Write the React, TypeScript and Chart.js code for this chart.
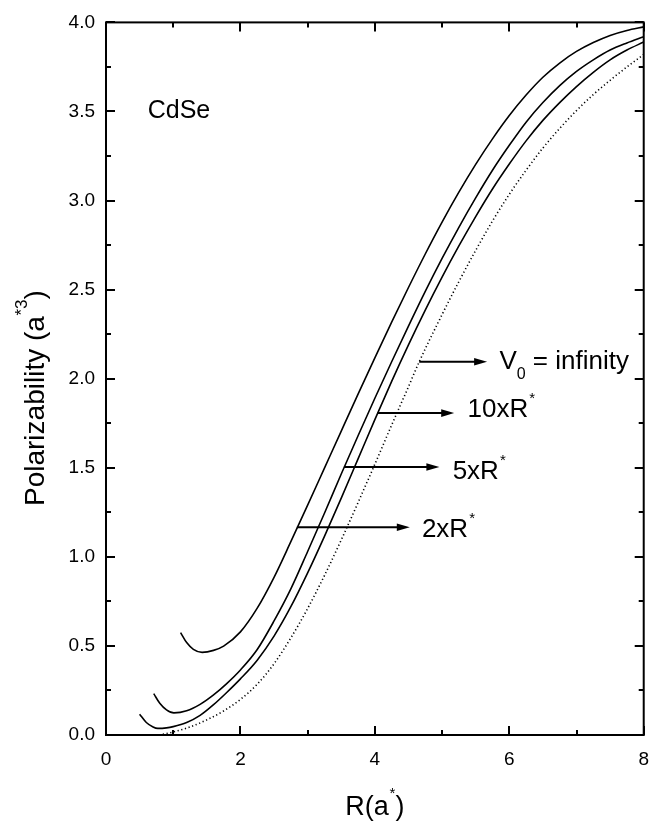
import React, { useEffect, useRef } from 'react';
import { Chart, registerables } from 'chart.js';

Chart.register(...registerables);

const FONT = '"Liberation Sans", Arial, Helvetica, sans-serif';

// Axis ticks
const xMajorTicks = [0, 2, 4, 6, 8];
const xMinorTicks = [1, 3, 5, 7];
const yMajorTicks = [0, 0.5, 1.0, 1.5, 2.0, 2.5, 3.0, 3.5, 4.0];
const yMinorTicks = [0.25, 0.75, 1.25, 1.75, 2.25, 2.75, 3.25, 3.75];

// Curve: V0 = 2 x R*
const r2x = [1.11, 1.2, 1.3, 1.43, 1.6, 1.75, 2.0, 2.25, 2.5, 2.75, 3.0, 3.25, 3.5, 3.75, 4.0, 4.25, 4.5, 4.75, 5.0, 5.25, 5.5, 5.75, 6.0, 6.25, 6.5, 6.75, 7.0, 7.25, 7.5, 7.75, 8.0];
const r2y = [0.575, 0.519, 0.481, 0.464, 0.475, 0.499, 0.579, 0.712, 0.885, 1.085, 1.29, 1.498, 1.706, 1.913, 2.117, 2.318, 2.512, 2.70, 2.879, 3.047, 3.203, 3.346, 3.477, 3.592, 3.692, 3.772, 3.837, 3.887, 3.927, 3.955, 3.975];

// Curve: V0 = 5 x R*
const r5x = [0.71, 0.8, 0.9, 1.01, 1.2, 1.4, 1.6, 1.8, 2.0, 2.25, 2.5, 2.75, 3.0, 3.25, 3.5, 3.75, 4.0, 4.25, 4.5, 4.75, 5.0, 5.25, 5.5, 5.75, 6.0, 6.25, 6.5, 6.75, 7.0, 7.25, 7.5, 7.75, 8.0];
const r5y = [0.232, 0.178, 0.141, 0.124, 0.136, 0.172, 0.225, 0.29, 0.365, 0.48, 0.64, 0.82, 1.03, 1.245, 1.465, 1.68, 1.89, 2.095, 2.295, 2.49, 2.675, 2.85, 3.015, 3.17, 3.31, 3.44, 3.55, 3.645, 3.725, 3.79, 3.845, 3.885, 3.92];

// Curve: V0 = 10 x R*
const r10x = [0.5, 0.6, 0.7, 0.77, 0.9, 1.0, 1.2, 1.4, 1.6, 1.8, 2.0, 2.25, 2.5, 2.75, 3.0, 3.25, 3.5, 3.75, 4.0, 4.25, 4.5, 4.75, 5.0, 5.25, 5.5, 5.75, 6.0, 6.25, 6.5, 6.75, 7.0, 7.25, 7.5, 7.75, 8.0];
const r10y = [0.117, 0.07, 0.045, 0.037, 0.04, 0.047, 0.07, 0.11, 0.17, 0.24, 0.315, 0.42, 0.555, 0.72, 0.91, 1.115, 1.33, 1.55, 1.77, 1.985, 2.19, 2.385, 2.57, 2.745, 2.91, 3.065, 3.205, 3.335, 3.45, 3.55, 3.64, 3.72, 3.79, 3.845, 3.89];

// Curve: V0 = infinity (dotted)
const rInfx = [0.79, 1.0, 1.25, 1.5, 1.75, 2.0, 2.25, 2.5, 2.75, 3.0, 3.25, 3.5, 3.75, 4.0, 4.25, 4.5, 4.66, 5.0, 5.25, 5.5, 5.75, 6.0, 6.25, 6.5, 6.75, 7.0, 7.25, 7.5, 7.75, 8.0];
const rInfy = [0.0, 0.017, 0.045, 0.085, 0.135, 0.20, 0.285, 0.40, 0.545, 0.71, 0.895, 1.095, 1.305, 1.52, 1.74, 1.955, 2.095, 2.36, 2.545, 2.72, 2.885, 3.035, 3.17, 3.295, 3.405, 3.505, 3.595, 3.675, 3.75, 3.82];

// Arrow annotations
const arrowMain = ['2xR', '5xR', '10xR', 'V'];
const arrowSup = ['*', '*', '*', ''];
const arrowSub = ['', '', '', '0'];
const arrowTail = ['', '', '', ' = infinity'];
const arrowStartX = [2.84, 3.54, 4.04, 4.66];
const arrowEndX = [4.52, 4.96, 5.18, 5.67];
const arrowY = [1.166, 1.504, 1.807, 2.095];
const labelX = [4.70, 5.157, 5.378, 5.853];
const labelY = [1.114, 1.439, 1.783, 2.052];

// Panel label
const panelText = 'CdSe';
const panelX = 0.62;
const panelY = 3.465;

const toPts = (xs: number[], ys: number[]) => xs.map((x, i) => ({ x, y: ys[i] }));

type Seg = [string, number, number];

function drawRich(ctx: CanvasRenderingContext2D, x: number, y: number, segs: Seg[]) {
  let cx = x;
  for (const [t, size, dy] of segs) {
    ctx.font = `${size}px ${FONT}`;
    ctx.fillText(t, cx, y + dy);
    cx += ctx.measureText(t).width;
  }
  return cx - x;
}

function richWidth(ctx: CanvasRenderingContext2D, segs: Seg[]) {
  let w = 0;
  for (const [t, size] of segs) {
    ctx.font = `${size}px ${FONT}`;
    w += ctx.measureText(t).width;
  }
  return w;
}

const decorPlugin = {
  id: 'decor',
  afterDatasetsDraw(chart: any) {
    const ctx: CanvasRenderingContext2D = chart.ctx;
    const { left, right, top, bottom } = chart.chartArea;
    const xs = chart.scales.x;
    const ys = chart.scales.y;
    ctx.save();
    ctx.strokeStyle = '#000';
    ctx.fillStyle = '#000';
    ctx.lineCap = 'butt';

    // frame
    ctx.lineWidth = 2;
    ctx.strokeRect(left, top, right - left, bottom - top);

    // inward ticks on all four sides
    const major = 9;
    const minor = 5;
    ctx.lineWidth = 2;
    ctx.beginPath();
    for (const v of xMajorTicks) {
      const p = Math.round(xs.getPixelForValue(v));
      ctx.moveTo(p, bottom); ctx.lineTo(p, bottom - major);
      ctx.moveTo(p, top); ctx.lineTo(p, top + major);
    }
    for (const v of xMinorTicks) {
      const p = Math.round(xs.getPixelForValue(v));
      ctx.moveTo(p, bottom); ctx.lineTo(p, bottom - minor);
      ctx.moveTo(p, top); ctx.lineTo(p, top + minor);
    }
    for (const v of yMajorTicks) {
      const p = Math.round(ys.getPixelForValue(v));
      ctx.moveTo(left, p); ctx.lineTo(left + major, p);
      ctx.moveTo(right, p); ctx.lineTo(right - major, p);
    }
    for (const v of yMinorTicks) {
      const p = Math.round(ys.getPixelForValue(v));
      ctx.moveTo(left, p); ctx.lineTo(left + minor, p);
      ctx.moveTo(right, p); ctx.lineTo(right - minor, p);
    }
    ctx.stroke();

    // arrows with labels
    for (let i = 0; i < arrowMain.length; i++) {
      const x0 = xs.getPixelForValue(arrowStartX[i]);
      const x1 = xs.getPixelForValue(arrowEndX[i]);
      const y = ys.getPixelForValue(arrowY[i]);
      ctx.lineWidth = 2;
      ctx.beginPath();
      ctx.moveTo(x0, y);
      ctx.lineTo(x1 - 10, y);
      ctx.stroke();
      ctx.beginPath();
      ctx.moveTo(x1, y);
      ctx.lineTo(x1 - 13, y - 3.8);
      ctx.lineTo(x1 - 13, y + 3.8);
      ctx.closePath();
      ctx.fill();

      const lx = xs.getPixelForValue(labelX[i]);
      const ly = ys.getPixelForValue(labelY[i]);
      ctx.textAlign = 'left';
      ctx.textBaseline = 'alphabetic';
      const segs: Seg[] = [[arrowMain[i], 26, 0]];
      if (arrowSub[i]) segs.push([arrowSub[i], 16, 10]);
      if (arrowSup[i]) segs.push([' ', 4, 0], [arrowSup[i], 15, -14]);
      if (arrowTail[i]) segs.push([arrowTail[i], 26, 0]);
      drawRich(ctx, lx, ly, segs);
    }

    // panel label
    ctx.textAlign = 'left';
    ctx.textBaseline = 'alphabetic';
    ctx.font = `25px ${FONT}`;
    ctx.fillText(panelText, xs.getPixelForValue(panelX), ys.getPixelForValue(panelY));

    // x title: R(a*)
    const xt: Seg[] = [['R(a', 27, 0], [' ', 3, 0], ['*', 15, -17], [')', 27, 0]];
    const xw = richWidth(ctx, xt);
    drawRich(ctx, (left + right) / 2 - xw / 2, 815, xt);

    // y title: Polarizability (a*3)
    const yt: Seg[] = [['Polarizability (a', 28, 0], [' ', 2, 0], ['*3', 17, -17], [')', 28, 0]];
    ctx.save();
    ctx.translate(44, 506);
    ctx.rotate(-Math.PI / 2);
    drawRich(ctx, 0, 0, yt);
    ctx.restore();

    ctx.restore();
  },
};

export default function App() {
  const ref = useRef<HTMLCanvasElement | null>(null);
  useEffect(() => {
    if (!ref.current) return;
    const lineDs = (data: any[], dotted = false) => ({
      data,
      showLine: true,
      borderColor: '#000',
      backgroundColor: '#000',
      borderWidth: dotted ? 1.6 : 1.6,
      borderDash: dotted ? [1.2, 2.6] : [],
      pointRadius: 0,
      pointHoverRadius: 0,
      cubicInterpolationMode: 'monotone' as const,
      fill: false,
    });
    const chart = new Chart(ref.current, {
      type: 'scatter',
      data: {
        datasets: [
          lineDs(toPts(r2x, r2y)),
          lineDs(toPts(r5x, r5y)),
          lineDs(toPts(r10x, r10y)),
          lineDs(toPts(rInfx, rInfy), true),
        ],
      },
      options: {
        animation: false,
        responsive: false,
        devicePixelRatio: 1,
        layout: { padding: { top: 17, right: 13, left: 0, bottom: 0 } },
        plugins: { legend: { display: false }, tooltip: { enabled: false }, title: { display: false } },
        scales: {
          x: {
            type: 'linear',
            min: 0,
            max: 8,
            afterFit: (s: any) => { s.height = 87; },
            grid: { display: false, drawTicks: false },
            border: { display: false },
            ticks: {
              stepSize: 2,
              padding: 13,
              color: '#000',
              font: { family: FONT, size: 19 },
              callback: (v: any) => String(v),
            },
          },
          y: {
            type: 'linear',
            min: 0,
            max: 4,
            afterFit: (s: any) => { s.width = 106; },
            grid: { display: false, drawTicks: false },
            border: { display: false },
            ticks: {
              stepSize: 0.5,
              padding: 11,
              color: '#000',
              font: { family: FONT, size: 19 },
              callback: (v: any) => Number(v).toFixed(1),
            },
          },
        },
      },
      plugins: [decorPlugin],
    });
    return () => chart.destroy();
  }, []);
  return (
    <div style={{ position: 'absolute', left: 0, top: 0, width: 662, height: 822, background: '#fff' }}>
      <canvas ref={ref} width={662} height={822} style={{ display: 'block' }} />
    </div>
  );
}
